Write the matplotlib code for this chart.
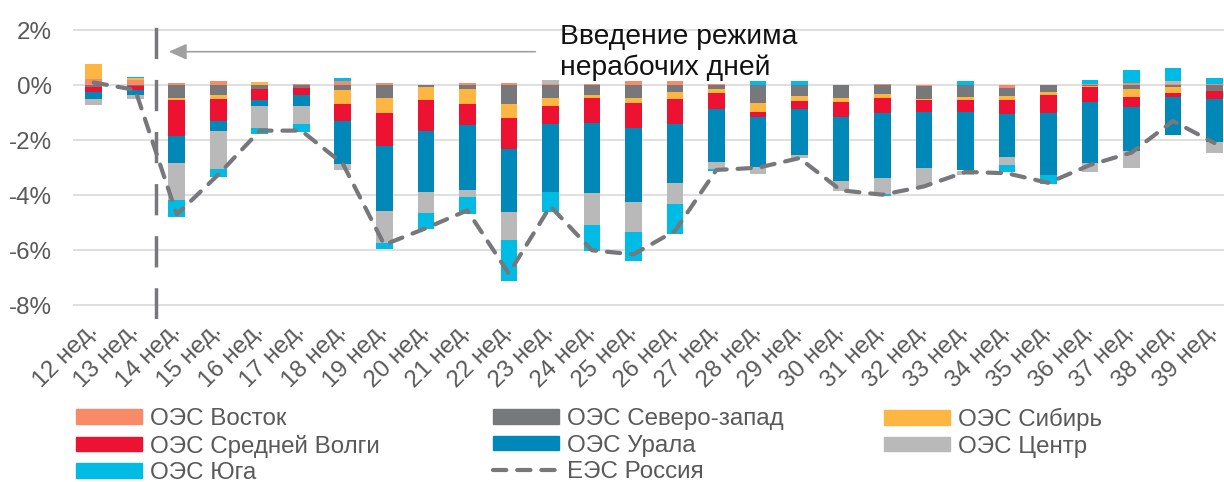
import matplotlib
matplotlib.use("Agg")
import matplotlib.pyplot as plt
import numpy as np
from matplotlib.patches import Patch
from matplotlib.lines import Line2D

plt.rcParams["font.family"] = ["Liberation Sans", "DejaVu Sans"]

# Data (% change by week)
weeks = [f"{w} нед." for w in range(12, 40)]

vostok = [0.24, 0.18, 0.10, 0.16, 0.00, 0.05, 0.17, 0.08, 0.00, 0.08, 0.08, 0.05, 0.03, 0.16,
          0.14, 0.04, 0.00, 0.00, 0.02, 0.05, -0.03, 0.00, -0.10, 0.00, 0.03, 0.10, 0.05, 0.03]
sev_zapad = [-0.07, -0.02, -0.47, -0.37, -0.12, -0.10, -0.16, -0.46, -0.06, -0.15, -0.68, -0.48, -0.36, -0.46,
             -0.26, -0.15, -0.66, -0.39, -0.45, -0.33, -0.46, -0.41, -0.30, -0.25, -0.02, -0.15, -0.07, -0.22]
sibir = [0.52, 0.07, -0.07, -0.12, 0.12, 0.00, -0.51, -0.55, -0.46, -0.52, -0.52, -0.26, -0.10, -0.19,
         -0.23, -0.13, -0.33, -0.18, -0.16, -0.15, -0.04, -0.13, -0.15, -0.11, -0.04, -0.28, -0.20, 0.00]
sred_volga = [-0.18, -0.15, -1.32, -0.80, -0.42, -0.25, -0.62, -1.21, -1.16, -0.79, -1.13, -0.66, -0.92, -0.91,
              -0.93, -0.60, -0.17, -0.28, -0.53, -0.52, -0.44, -0.42, -0.50, -0.65, -0.55, -0.35, -0.15, -0.28]
ural = [-0.25, -0.20, -0.98, -0.36, -0.20, -0.42, -1.57, -2.36, -2.20, -2.35, -2.27, -2.48, -2.54, -2.67,
        -2.15, -1.90, -1.83, -1.68, -2.34, -2.36, -2.04, -2.14, -1.57, -2.26, -2.22, -1.61, -1.40, -1.56]
centr = [-0.23, -0.12, -1.33, -1.40, -0.82, -0.65, -0.24, -1.17, -0.75, -0.24, -1.03, 0.15, -1.15, -1.09,
         -0.76, -0.25, -0.24, -0.10, -0.36, -0.58, -0.67, -0.15, -0.27, 0.00, -0.31, -0.63, 0.10, -0.42]
yug = [0.02, 0.04, -0.63, -0.30, -0.20, -0.27, 0.10, -0.20, -0.60, -0.62, -1.48, -0.74, -0.97, -1.06,
       -1.09, -0.10, 0.15, 0.17, 0.00, -0.08, 0.00, 0.17, -0.28, -0.33, 0.17, 0.45, 0.47, 0.25]
ees = [0.10, -0.17, -4.70, -3.25, -1.65, -1.65, -2.85, -5.80, -5.20, -4.55, -6.85, -4.40, -6.00, -6.15,
       -5.30, -3.08, -3.00, -2.65, -3.82, -3.98, -3.68, -3.15, -3.20, -3.55, -2.90, -2.45, -1.30, -2.10]

series = [
    ("ОЭС Восток", vostok, "#F98A67"),
    ("ОЭС Северо-запад", sev_zapad, "#77787B"),
    ("ОЭС Сибирь", sibir, "#FDB642"),
    ("ОЭС Средней Волги", sred_volga, "#ED1132"),
    ("ОЭС Урала", ural, "#0088B9"),
    ("ОЭС Центр", centr, "#B9B9BA"),
    ("ОЭС Юга", yug, "#00BCE4"),
]
line_color = "#77787B"
text_color = "#595959"
fs = 17.4

fig = plt.figure(figsize=(12.24, 4.82), dpi=100)
ax = fig.add_axes([73 / 1224, 1 - 319 / 482, 1 - 73 / 1224, 308 / 482])

x = np.arange(len(weeks))
pos_bottom = np.zeros(len(weeks))
neg_bottom = np.zeros(len(weeks))
for name, vals, color in series:
    v = np.array(vals)
    bottom = np.where(v >= 0, pos_bottom, neg_bottom)
    ax.bar(x, v, 0.4, bottom=bottom, color=color, linewidth=0, zorder=2)
    pos_bottom += np.where(v > 0, v, 0)
    neg_bottom += np.where(v < 0, v, 0)

ax.plot(x, ees, color=line_color, lw=3, dashes=(3.2, 2.6), dash_capstyle="round", zorder=3)

# start of non-working days
ax.axvline(1.5, color=line_color, lw=2.5, dashes=(9, 6), zorder=3)
ax.annotate("", xy=(1.81, 1.22), xytext=(10.64, 1.22),
            arrowprops=dict(arrowstyle="-|>,head_length=0.4,head_width=0.18",
                            color="#A0A0A0", lw=1.2, mutation_scale=27, shrinkA=0, shrinkB=0))
ax.text(11.23, 2.22, "Введение режима\nнерабочих дней", ha="left", va="top",
        fontsize=20.3, linespacing=1.23, color="#111111")

ax.set_xlim(-0.5, 27.23)
ax.set_ylim(-8.5, 2.7)
yt = [2, 0, -2, -4, -6, -8]
ax.set_yticks(yt)
ax.set_yticklabels([f"{t}%" for t in yt])
ax.set_xticks(x)
ax.set_xticklabels(weeks, rotation=45, ha="right", va="center", rotation_mode="anchor")
ax.tick_params(axis="y", length=0, pad=15, labelsize=fs, labelcolor=text_color)
ax.tick_params(axis="x", length=0, pad=6, labelsize=fs, labelcolor=text_color)
ax.grid(axis="y", color="#D9D9D9", lw=1.2, zorder=0)
ax.set_axisbelow(True)
for s in ax.spines.values():
    s.set_visible(False)

# legend in three columns, like the original
handles = {name: Patch(color=color) for name, vals, color in series}
handles["ЕЭС Россия"] = Line2D([], [], color=line_color, lw=3, dashes=(3.2, 2.6), dash_capstyle="round")
columns = [
    (76, ["ОЭС Восток", "ОЭС Средней Волги", "ОЭС Юга"]),
    (493, ["ОЭС Северо-запад", "ОЭС Урала", "ЕЭС Россия"]),
    (884, ["ОЭС Сибирь", "ОЭС Центр"]),
]
for left, names in columns:
    fig.legend([handles[n] for n in names], names, loc="upper left",
               bbox_to_anchor=(left / 1224, 1 - 408 / 482), frameon=False,
               fontsize=fs, labelcolor=text_color, borderpad=0, borderaxespad=0,
               handlelength=2.75, handleheight=0.54, handletextpad=0.3, labelspacing=0.19)

fig.savefig("out.png", dpi=100)
